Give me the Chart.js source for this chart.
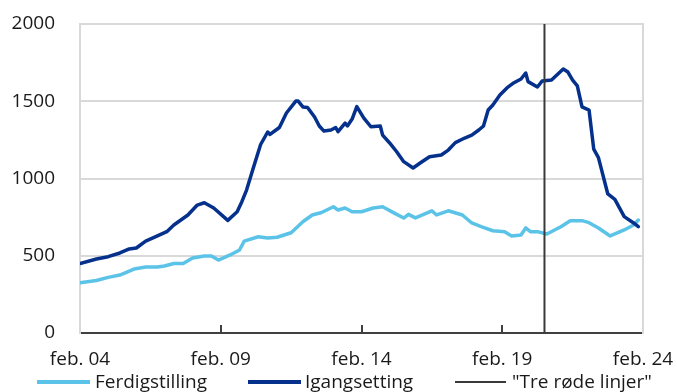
<!DOCTYPE html>
<html>
<head>
<meta charset="utf-8">
<script src="https://cdn.jsdelivr.net/npm/chart.js@4/dist/chart.umd.min.js"></script>
<style>
  html, body { margin: 0; padding: 0; background: #fff; overflow: hidden; }
  #wrap { position: relative; width: 677px; height: 392px; overflow: hidden; }
  #chart { position: absolute; left: 0; top: 0; }
  .lg-line { position: absolute; }
  .lg-text { position: absolute; font-family: "Open Sans", sans-serif; font-size: 19px; line-height: 19px; color: #1a1a1a; white-space: nowrap; }
</style>
</head>
<body>
<div id="wrap">
  <canvas id="chart" width="677" height="392"></canvas>
  <div id="legend"></div>
</div>
<script>
// Months counted from feb. 2004 (0 = feb. 04, 240 = feb. 24)
const tickLabels = ["feb. 04", "feb. 09", "feb. 14", "feb. 19", "feb. 24"];
const seriesNames = ["Ferdigstilling", "Igangsetting", "\"Tre røde linjer\""];

const ferdigMonths = [0,7,12,17,23,28,33,36,40,44,48,53,56,59,64,68,70,76,80,84,90,95,99,103,108,110,113,116,120,125,129,134,138,140,143,146,150,152,157,163,167,171,176,181,184,188,190,192,195,199,205,209,214,217,221,226,232,236,238];
const ferdigValues = [325,340,360,375,414,427,427,434,450,450,485,498,498,472,505,537,595,623,615,620,649,720,764,780,817,796,809,785,785,809,817,776,744,768,745,764,791,764,791,764,712,688,662,656,628,634,680,656,656,641,688,727,727,714,680,628,667,699,731];

const igangMonths = [0,7,12,17,21,24,28,33,37,40,46,50,53,57,63,67,69,71,74,77,80,81,85,88,92,93,95,97,100,102,104,107,109,110,113,114,116,118,121,124,128,129,132,135,138,142,145,149,154,157,160,164,167,170,172,174,176,179,182,185,188,190,191,195,197,201,206,208,210,212,214,217,219,221,225,228,232,236,238];
const igangValues = [450,479,494,518,544,550,595,628,656,699,764,828,843,809,729,785,850,925,1075,1220,1301,1285,1330,1424,1501,1501,1463,1460,1398,1340,1307,1314,1330,1303,1359,1340,1385,1465,1391,1335,1340,1281,1230,1173,1109,1068,1100,1141,1152,1184,1232,1262,1281,1314,1340,1443,1476,1540,1586,1620,1644,1683,1627,1592,1631,1637,1709,1689,1637,1600,1463,1443,1190,1135,900,865,753,712,688];

const markerMonth = 198;          // "Tre røde linjer" (aug. 2020)
const markerRange = [0, 2000];

const colors = { ferdig: "#5bc3e8", igang: "#05318c", marker: "#3a3a3a" };

function toPoints(xs, ys) { return xs.map((x, i) => ({ x: x, y: ys[i] })); }

const FONT = { family: "'Open Sans', sans-serif", size: 19 };

new Chart(document.getElementById("chart"), {
  type: "line",
  data: {
    datasets: [
      { label: seriesNames[0], data: toPoints(ferdigMonths, ferdigValues), borderColor: colors.ferdig, backgroundColor: colors.ferdig, borderWidth: 3.5, pointRadius: 0, tension: 0, borderJoinStyle: "round", borderCapStyle: "round", order: 2 },
      { label: seriesNames[1], data: toPoints(igangMonths, igangValues), borderColor: colors.igang, backgroundColor: colors.igang, borderWidth: 3.5, pointRadius: 0, tension: 0, borderJoinStyle: "round", borderCapStyle: "round", order: 1 },
      { label: seriesNames[2], data: markerRange.map(v => ({ x: markerMonth, y: v })), borderColor: colors.marker, backgroundColor: colors.marker, borderWidth: 2, pointRadius: 0, order: 0 }
    ]
  },
  options: {
    responsive: false,
    animation: false,
    events: [],
    layout: { padding: { left: 0, top: 24, right: 34, bottom: 0 } },
    plugins: { legend: { display: false }, tooltip: { enabled: false } },
    scales: {
      x: {
        type: "linear", min: 0, max: 240,
        afterFit: (s) => { s.height = 59; s.paddingLeft = 0; s.paddingRight = 0; },
        ticks: { stepSize: 60, autoSkip: false, maxRotation: 0, padding: 23, color: "#1a1a1a", font: FONT,
                 callback: (v) => tickLabels[Math.round(v / 60)] },
        grid: { drawOnChartArea: false, drawTicks: true, tickLength: -8, color: "#404040", lineWidth: 2 },
        border: { color: "#404040", width: 2 }
      },
      y: {
        min: 0, max: 2000,
        afterFit: (s) => { s.width = 80; s.paddingTop = 0; s.paddingBottom = 0; },
        ticks: { stepSize: 500, padding: 25, color: "#1a1a1a", font: FONT, callback: (v) => String(v) },
        grid: { color: "#d9d9d9", lineWidth: 2, drawTicks: false },
        border: { color: "#d9d9d9", width: 2 }
      },
      y2: {
        position: "right", min: 0, max: 2000,
        afterFit: (s) => { s.width = 0; s.paddingTop = 0; s.paddingBottom = 0; },
        ticks: { display: false },
        grid: { drawOnChartArea: false, drawTicks: false },
        border: { color: "#d9d9d9", width: 2 }
      }
    }
  }
});

// Legend (HTML, partially cut off at the bottom like the reference)
const legendItems = [
  { text: seriesNames[0], color: colors.ferdig, lineLeft: 37, lineWidth: 53, thick: 3.5, textLeft: 95 },
  { text: seriesNames[1], color: colors.igang, lineLeft: 248, lineWidth: 53, thick: 3.5, textLeft: 305 },
  { text: seriesNames[2], color: colors.marker, lineLeft: 455, lineWidth: 51, thick: 1.5, textLeft: 512 }
];
const lg = document.getElementById("legend");
legendItems.forEach(it => {
  const l = document.createElement("div");
  l.className = "lg-line";
  l.style.left = it.lineLeft + "px";
  l.style.width = it.lineWidth + "px";
  l.style.top = (382 - it.thick / 2) + "px";
  l.style.height = it.thick + "px";
  l.style.background = it.color;
  lg.appendChild(l);
  const t = document.createElement("div");
  t.className = "lg-text";
  t.style.left = it.textLeft + "px";
  t.style.top = "372px";
  t.textContent = it.text;
  lg.appendChild(t);
});
</script>
</body>
</html>
